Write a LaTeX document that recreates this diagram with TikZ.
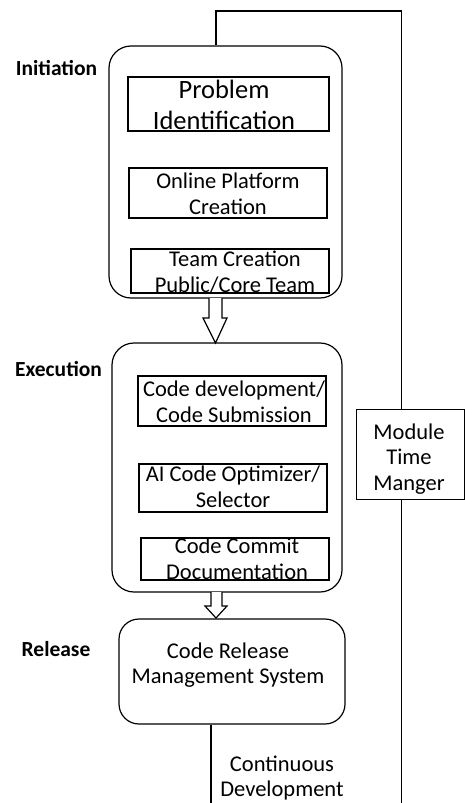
\documentclass[tikz,border=0pt]{standalone}
\usepackage{fontspec}
\setmainfont{Carlito}
\begin{document}
\begin{tikzpicture}[x=1pt,y=-1pt,
  line/.style={line width=1.2pt},
  phase/.style={draw, line width=1.2pt, rounded corners=22pt, inner sep=0pt},
  stepbox/.style={draw, line width=1.2pt, inner sep=0pt},
  txt/.style={align=center, font=\fontsize{22.5}{25.5}\selectfont, inner sep=0pt},
  bigtxt/.style={align=center, font=\fontsize{26.5}{31}\selectfont, inner sep=0pt},
  lab/.style={font=\bfseries\fontsize{21.5}{24}\selectfont, inner sep=0pt},
  blockarrow/.style={draw, line width=1.2pt, fill=white, line join=miter}
]
\useasboundingbox (0,0) rectangle (465,803);

% phase containers
\node[phase, minimum width=233pt, minimum height=252pt] (init) at (225.5,172) {};
\node[phase, minimum width=230pt, minimum height=249pt] (exec) at (227,467.5) {};
\node[phase, rounded corners=20pt, minimum width=226pt, minimum height=105pt] (rel) at (232,671.5) {};

% inner boxes
\node[stepbox, minimum width=201pt, minimum height=54pt] (prob) at (228.5,104) {};
\node[stepbox, minimum width=198pt, minimum height=50pt] (online) at (228,193) {};
\node[stepbox, minimum width=198pt, minimum height=44pt] (team) at (230,271) {};
\node[stepbox, minimum width=188pt, minimum height=50pt] (codedev) at (232,401) {};
\node[stepbox, minimum width=188pt, minimum height=48pt] (ai) at (233,488) {};
\node[stepbox, minimum width=188pt, minimum height=42pt] (commit) at (235,559) {};
\node[stepbox, minimum width=108pt, minimum height=90pt, anchor=north west] (mtm) at (356,409) {};

% texts of boxes
\node[bigtxt] (tprob) at (224,105) {Problem\\Identification};
\node[txt] (tonline) at (228,194) {Online Platform\\Creation};
\node[txt] (tteam) at (235,272) {Team Creation\\Public/Core Team};
\node[txt] (tcodedev) at (234,402) {Code development/\\Code Submission};
\node[txt] (tai) at (233,487) {AI Code Optimizer/\\Selector};
\node[txt] (tcommit) at (237,559) {Code Commit\\Documentation};
\node[txt] (trel) at (228,665) {Code Release\hspace{16pt}\\Management System};
\node[txt] (tmtm) at (409,459) {Module\\Time\\Manger};
\node[txt] (tcont) at (282,778) {Continuous\\Development};

% phase labels
\node[lab] (linit) at (56.5,68) {Initiation};
\node[lab] (lexec) at (58.5,369) {Execution};
\node[lab] (lrel) at (56,649) {Release};

% feedback loop lines
\coordinate (tl) at (216,11);
\coordinate (tr) at (401.5,11);
\coordinate (br) at (401.5,803);
\coordinate (bl) at (211,803);
\draw[line] (init.north -| tl) -- (tl) -- (tr) -- (mtm.north -| tr);
\draw[line] (mtm.south -| tr) -- (br);
\draw[line] (rel.south -| bl) -- (bl);

% block arrows
\draw[blockarrow] (209,298) -- (209,318) -- (203,318) -- (215.5,343) -- (227,318) -- (222,318) -- (222,298);
\draw[blockarrow] (211,592) -- (211,606) -- (205,606) -- (216,618) -- (227,606) -- (222,606) -- (222,592);
\end{tikzpicture}
\end{document}
